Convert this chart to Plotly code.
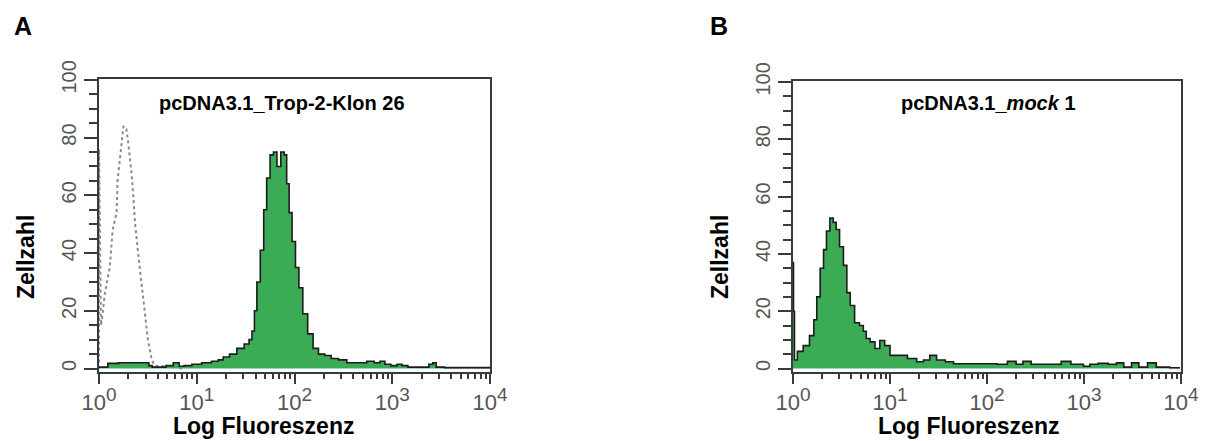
import plotly.graph_objects as go

# ---- data (log10 fluorescence channel, cell count) ----
a_green_log = [0.00, 0.08, 0.10, 0.30, 0.50, 0.52, 0.57, 0.65, 0.72, 0.80, 0.84, 0.90, 1.00, 1.10,
               1.20, 1.24, 1.30, 1.37, 1.45, 1.52, 1.55, 1.58, 1.60, 1.63, 1.67, 1.70, 1.73, 1.77,
               1.80, 1.84, 1.88, 1.91, 1.93, 1.96, 1.99, 2.03, 2.06, 2.11, 2.16, 2.22, 2.27, 2.35,
               2.40, 2.50, 2.57, 2.70, 2.78, 2.85, 2.90, 2.95, 3.02, 3.08, 3.12, 3.20, 3.35, 3.40,
               3.43, 3.47, 3.60, 4.00]
a_green_cnt = [0.5, 0.5, 1.8, 2.0, 2.0, 1.0, 0.5, 0.5, 1.0, 2.0, 0.8, 1.0, 1.5, 2.0,
               2.5, 3.0, 4.0, 5.0, 7.0, 8.5, 10, 13, 20, 30, 41, 55, 66, 74,
               75, 70, 75, 74, 64, 54, 44, 35, 28, 19, 12, 7, 5, 4.5,
               3.5, 3.0, 2.0, 2.0, 2.5, 2.0, 2.5, 1.5, 1.0, 1.5, 1.0, 0.5, 0.5, 1.5,
               2.0, 0.5, 0.3, 0.3]

a_ctrl_log = [0.00, 0.00, 0.02, 0.03, 0.06, 0.11, 0.14, 0.18, 0.19, 0.22, 0.25, 0.28, 0.30,
              0.34, 0.37, 0.40, 0.44, 0.47, 0.50, 0.54, 0.57, 0.78, 0.85]
a_ctrl_cnt = [0, 76, 15, 17, 26, 35, 48, 54, 65, 74, 84, 83, 78,
              65, 50, 40, 28, 19, 10, 3, 1, 0.5, 0]

b_green_log = [0.00, 0.01, 0.02, 0.07, 0.14, 0.20, 0.23, 0.26, 0.30, 0.33, 0.36, 0.40, 0.43,
               0.46, 0.50, 0.54, 0.57, 0.61, 0.66, 0.71, 0.74, 0.77, 0.82, 0.87, 0.92, 0.97,
               1.03, 1.12, 1.24, 1.31, 1.38, 1.44, 1.52, 1.62, 1.69, 2.06, 2.15, 2.27, 2.33,
               2.41, 2.50, 2.70, 2.83, 2.90, 2.96, 3.03, 3.09, 3.20, 3.30, 3.37, 3.45, 3.53,
               3.60, 3.71, 3.78, 3.99]
b_green_cnt = [37, 20, 3, 6, 8, 11.5, 17, 25, 35, 41.5, 48, 52.5, 51,
               48.5, 42.5, 36, 26.5, 22, 16, 15, 13, 10.5, 9.3, 7, 9.8, 8,
               4.6, 4.6, 3.5, 2.4, 3, 4.6, 3, 2.4, 1.7, 1.7, 1.5, 2.5, 1.5,
               2.5, 1.5, 1.5, 2.5, 1.5, 1.5, 0.8, 1.5, 1.8, 1.5, 2, 0.5, 2,
               0.5, 2, 0.5, 0.3]

x_tick_vals = [1, 10, 100, 1000, 10000]
x_tick_text = ["10<sup><span style='font-size:19px'>%d</span></sup>" % k for k in range(5)]
y_tick_vals = [0, 20, 40, 60, 80, 100]

panel_letters = ["A", "B"]
panel_titles = ["pcDNA3.1_Trop-2-Klon 26", "pcDNA3.1_<i>mock</i> 1"]
x_title = "Log Fluoreszenz"
y_title = "Zellzahl"

GREEN = "#3cab55"
EDGE = "#1c1c1c"
AX = "#3a3a3a"
FONT = "Liberation Sans, Arial, sans-serif"
OFF = 8                      # page body margin of the browser
W, H = 1207 - OFF, 441 - OFF


def fx(px):
    return (px - OFF) / W


def fy(py):
    return 1 - (py - OFF) / H


fig = go.Figure()

fig.add_trace(go.Scatter(x=[10 ** v for v in a_ctrl_log], y=a_ctrl_cnt, mode="lines",
                         line=dict(color="#8a8a8a", width=2, dash="dot"),
                         xaxis="x", yaxis="y", showlegend=False))
fig.add_trace(go.Scatter(x=[10 ** v for v in a_green_log], y=a_green_cnt, mode="lines",
                         line=dict(color=EDGE, width=1.6, shape="hvh"), fill="tozeroy",
                         fillcolor=GREEN, xaxis="x", yaxis="y", showlegend=False))
fig.add_trace(go.Scatter(x=[10 ** v for v in b_green_log], y=b_green_cnt, mode="lines",
                         line=dict(color=EDGE, width=1.6, shape="hvh"), fill="tozeroy",
                         fillcolor=GREEN, xaxis="x2", yaxis="y2", showlegend=False))


def xaxis(domain, anchor):
    return dict(type="log", range=[0, 4], domain=domain, anchor=anchor, automargin=False,
                showgrid=False, zeroline=False, showline=True, linecolor=AX, linewidth=2,
                mirror=True, ticks="outside", ticklen=10, tickwidth=2, tickcolor=AX,
                tickmode="array", tickvals=x_tick_vals, ticktext=x_tick_text,
                tickfont=dict(family=FONT, size=22, color="#555555"),
                minor=dict(ticks="outside", ticklen=5, tickwidth=1.5, tickcolor=AX,
                           dtick="D1", showgrid=False))


def yaxis(domain, anchor):
    return dict(range=[-1.2, 100.3], domain=domain, anchor=anchor, automargin=False,
                showgrid=False, zeroline=False, showline=True, linecolor=AX, linewidth=2,
                mirror=True, ticks="outside", ticklen=13, tickwidth=2, tickcolor=AX,
                tickmode="array", tickvals=y_tick_vals, tickangle=-90,
                tickfont=dict(family=FONT, size=20, color="#555555"),
                minor=dict(ticks="outside", ticklen=8, tickwidth=1.5, tickcolor=AX,
                           dtick=5, showgrid=False))


def ann(text, px, py, size, angle=0):
    return dict(text=text, x=fx(px), y=fy(py), xref="paper", yref="paper",
                xanchor="center", yanchor="middle", showarrow=False, textangle=angle,
                font=dict(family=FONT, size=size, color="black"))


annotations = []
for i, (lx, tx, zx, ax_) in enumerate([(23, 282, 26, 263), (719, 988, 720, 968)]):
    annotations.append(ann("<b>%s</b>" % panel_letters[i], lx, 26, 25))
    annotations.append(ann("<b>%s</b>" % panel_titles[i], tx, 103, 20))
    annotations.append(ann("<b>%s</b>" % y_title, zx, 257, 23, -90))
    annotations.append(ann("<b>%s</b>" % x_title, ax_, 426, 23))

fig.update_layout(
    template="none",
    width=W, height=H, margin=dict(l=0, r=0, t=0, b=0, autoexpand=False),
    paper_bgcolor="white", plot_bgcolor="white", showlegend=False,
    xaxis=xaxis([fx(99), fx(490)], "y"),
    yaxis=yaxis([fy(372), fy(79)], "x"),
    xaxis2=xaxis([fx(793), fx(1181)], "y2"),
    yaxis2=yaxis([fy(372), fy(81)], "x2"),
    annotations=annotations,
)

fig.write_html("out.html")
